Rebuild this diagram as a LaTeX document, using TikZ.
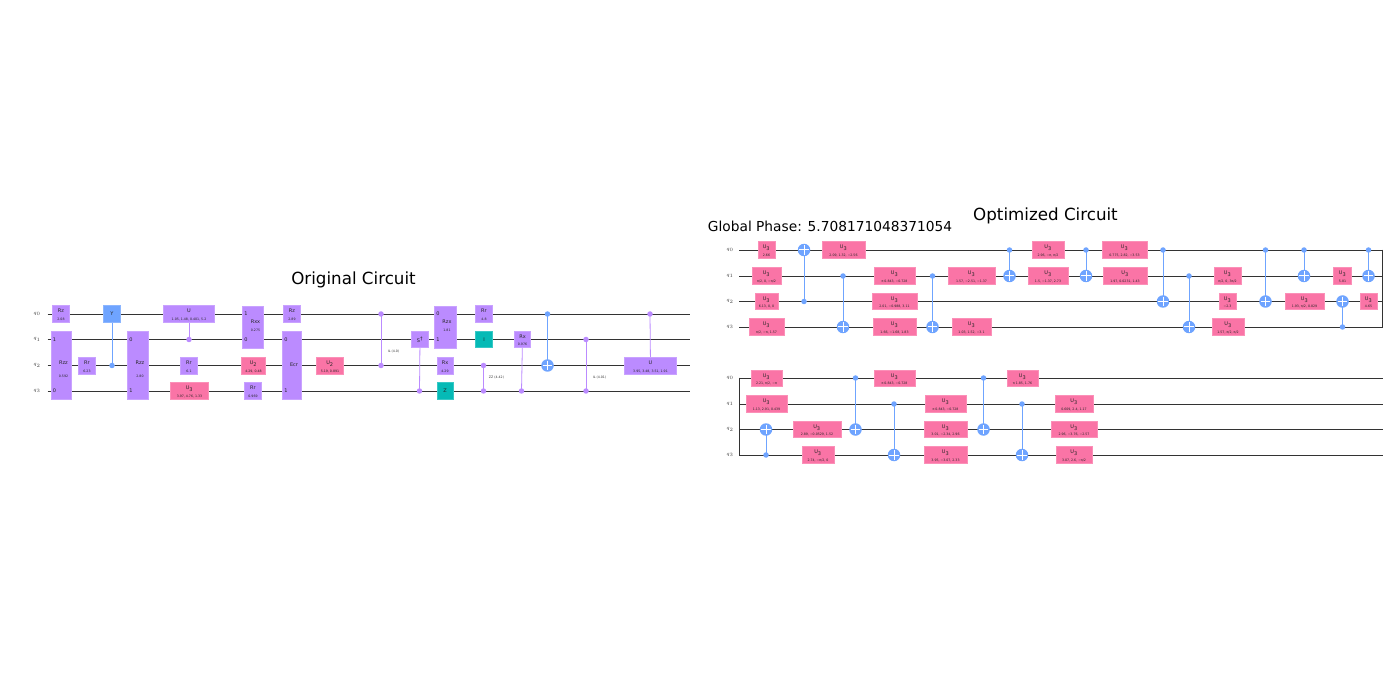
\documentclass[tikz,border=0pt]{standalone}
\usepackage{fontspec}
\setmainfont{DejaVu Sans}
\usepackage{xcolor}
\usetikzlibrary{backgrounds}
\definecolor{gatepurple}{HTML}{BB8BFF}
\definecolor{gateblue}{HTML}{6FA4FF}
\definecolor{gatepink}{HTML}{FA74A6}
\definecolor{gateteal}{HTML}{05BAB6}
\def\gateline#1#2#3{\makebox[0pt]{\raisebox{#1}[0pt][0pt]{\fontsize{#2}{6}\selectfont #3}}}
\def\gatetext#1#2{\gateline{1.2pt}{5}{#1}\gateline{-6.4pt}{3.2}{#2}}
\def\gatetall#1#2{\gateline{0.7pt}{5}{#1}\gateline{-12pt}{3.2}{#2}}
\def\uthree#1{\gatetext{U\textsubscript{3}}{#1}}
\def\utwo#1{\gatetext{U\textsubscript{2}}{#1}}
\begin{document}
\begin{tikzpicture}[x=1pt,y=-1pt]
    \tikzstyle{gatebox}=[rectangle,inner sep=0pt,text=black!85,line width=0.7pt,minimum width=17pt,minimum height=16.5pt]
    \tikzstyle{pgate}=[gatebox,fill=gatepurple,draw=gatepurple!80!white]
    \tikzstyle{bgate}=[gatebox,fill=gateblue,draw=gateblue!80!white]
    \tikzstyle{ugate}=[gatebox,fill=gatepink,draw=gatepink!80!white]
    \tikzstyle{tgate}=[gatebox,fill=gateteal,draw=gateteal!80!white]
    \tikzstyle{pdot}=[circle,fill=gatepurple,inner sep=0pt,minimum size=5.5pt]
    \tikzstyle{bdot}=[circle,fill=gateblue,inner sep=0pt,minimum size=5.5pt]
    \tikzstyle{target}=[circle,fill=gateblue,inner sep=0pt,minimum size=12.5pt,
      path picture={\draw[white,line width=1pt]
        ([yshift=-1.5pt]path picture bounding box.north) -- ([yshift=1.5pt]path picture bounding box.south)
        ([xshift=1.5pt]path picture bounding box.west) -- ([xshift=-1.5pt]path picture bounding box.east);}]
    \tikzstyle{wire}=[black!80,line width=0.8pt]
    \tikzstyle{plink}=[gatepurple,line width=0.8pt]
    \tikzstyle{blink}=[gateblue,line width=0.8pt]
    \tikzstyle{qlabel}=[text=black!75,font=\fontsize{5.5}{6}\selectfont]
    \tikzstyle{pin}=[text=black!85,font=\fontsize{5}{6}\selectfont]
    \tikzstyle{phase}=[text=black!80,font=\fontsize{3.2}{4}\selectfont]
    \tikzstyle{heading}=[text=black,font=\fontsize{16.7}{20}\selectfont]
    \useasboundingbox (0,0) rectangle (1400,700);

    \node[heading] (origtitle) at (353.5,279.5) {Original Circuit};
    \node[heading] (opttitle) at (1045.5,216) {Optimized Circuit};
    \node[text=black,font=\fontsize{13.75}{16}\selectfont] (phasetitle) at (830,226) {Global Phase: 5.708171048371054};

    % wire ends and names
    \foreach \i/\w/\ya/\yb in {0/314/250/378,1/339.5/276/404,2/365.5/301.5/429.5,3/391/327/455} {
      \coordinate (ow\i) at (47.5,\w);
      \coordinate (oe\i) at (690,\w);
      \coordinate (aw\i) at (739,\ya);
      \coordinate (ae\i) at (1382.5,\ya);
      \coordinate (bw\i) at (739,\yb);
      \coordinate (be\i) at (1382.5,\yb);
      \node[qlabel] (oq\i) at (37,\w) {$q_\i$};
      \node[qlabel] (aq\i) at (730,\ya) {$q_\i$};
      \node[qlabel] (bq\i) at (730,\yb) {$q_\i$};
    }

    % original circuit
    \node[pgate] (o1) at (61,314) {\gatetext{Rz}{2.08}};
    \node[pgate,minimum width=20pt,minimum height=68pt] (o2) at (61.5,365.5) {};
    \node[pin] (o2a) at (54.5,339.5) {1};
    \node[pin] (o2b) at (54.5,391) {0};
    \node[gatebox] (o2c) at (63.5,365.5) {\gatetall{Rzz}{0.592}};
    \node[pgate] (o3) at (87,366) {\gatetext{Rr}{6.23}};
    \node[bgate] (o4) at (112,314) {\fontsize{5}{6}\selectfont Y};
    \node[bdot] (o4c) at (112,365.5) {};
    \node[pgate,minimum width=21pt,minimum height=68pt] (o5) at (138,365.5) {};
    \node[pin] (o5a) at (131,339.5) {0};
    \node[pin] (o5b) at (131,391) {1};
    \node[gatebox] (o5c) at (140,365.5) {\gatetall{Rzz}{2.80}};
    \node[pgate,minimum width=51pt] (o6) at (189,314) {\gatetext{U}{1.05, 1.48, 0.401, 5.2}};
    \node[pdot] (o6c) at (189,339.5) {};
    \node[pgate] (o7) at (189,366) {\gatetext{Rr}{6.1}};
    \node[ugate,minimum width=38pt] (o8) at (189.5,391) {\uthree{3.97, 4.76, 1.33}};
    \node[pgate,minimum width=21pt,minimum height=42pt] (o9) at (253,327) {};
    \node[pin] (o9a) at (246,314) {1};
    \node[pin] (o9b) at (246,339.5) {0};
    \node[gatebox] (o9c) at (255.5,325) {\gatetext{Rxx}{0.275}};
    \node[ugate,minimum width=24pt] (o10) at (253.5,366) {\utwo{4.29, 0.48}};
    \node[pgate] (o11) at (253,391) {\gatetext{Rr}{0.969}};
    \node[pgate] (o12) at (292,314) {\gatetext{Rz}{2.89}};
    \node[pgate,minimum width=19pt,minimum height=68pt] (o13) at (291.5,365.5) {};
    \node[pin] (o13a) at (286,339.5) {0};
    \node[pin] (o13b) at (286,391) {1};
    \node[pin] (o13c) at (294,365) {Ecr};
    \node[ugate,minimum width=27pt] (o14) at (330,366) {\utwo{5.19, 0.891}};
    \node[pdot] (o15a) at (381,314) {};
    \node[pdot] (o15b) at (381,365.5) {};
    \node[phase] (o15c) at (393.5,351) {IL (4.0)};
    \node[pgate] (o16) at (420,339.5) {\fontsize{5}{6}\selectfont S\textsuperscript{†}};
    \node[pdot] (o16c) at (419.5,391) {};
    \node[pgate,minimum width=22pt,minimum height=42pt] (o17) at (445.5,327) {};
    \node[pin] (o17a) at (438,314) {0};
    \node[pin] (o17b) at (438,339.5) {1};
    \node[gatebox] (o17c) at (447,325) {\gatetext{Rzx}{1.81}};
    \node[pgate,minimum width=16pt] (o18) at (445,366) {\gatetext{Rx}{4.29}};
    \node[tgate,minimum width=16pt] (o19) at (445,391) {\fontsize{5}{6}\selectfont Z};
    \node[pgate] (o20) at (484,314) {\gatetext{Rr}{4.8}};
    \node[tgate] (o21) at (484,339.5) {\fontsize{5}{6}\selectfont I};
    \node[pdot] (o22a) at (483.5,365.5) {};
    \node[pdot] (o22b) at (483.5,391) {};
    \node[phase] (o22c) at (496.5,377) {ZZ (4.42)};
    \node[pgate,minimum width=16pt] (o23) at (522.5,339.5) {\gatetext{Rx}{0.976}};
    \node[pdot] (o23c) at (521.5,391) {};
    \node[bdot] (o24c) at (547.5,314) {};
    \node[target] (o24) at (547.5,365.5) {};
    \node[pdot] (o25a) at (586,339.5) {};
    \node[pdot] (o25b) at (586,391) {};
    \node[phase] (o25c) at (599.5,377) {IL (4.01)};
    \node[pgate,minimum width=52pt] (o26) at (650.5,366) {\gatetext{U}{3.95, 3.48, 3.51, 1.91}};
    \node[pdot] (o26c) at (650,314) {};

    % optimized circuit, first row
    \node[ugate] (a1) at (766.5,250) {\uthree{2.66}};
    \node[ugate,minimum width=29pt] (a2) at (766.5,276) {\uthree{π/2, 0, −π/2}};
    \node[ugate,minimum width=23pt] (a3) at (766.5,301.5) {\uthree{6.13, 0, 0}};
    \node[ugate,minimum width=35pt] (a4) at (766.5,327) {\uthree{π/2, −π, 1.57}};
    \node[target] (a5) at (804,250) {};
    \node[bdot] (a5c) at (804,301.5) {};
    \node[ugate,minimum width=43pt] (a6) at (843.5,250) {\uthree{2.09, 1.32, −2.56}};
    \node[bdot] (a7c) at (843,276) {};
    \node[target] (a7) at (843,327) {};
    \node[ugate,minimum width=41pt] (a8) at (894.5,276) {\uthree{π 0.843, −0.728}};
    \node[ugate,minimum width=45pt] (a9) at (894.5,301.5) {\uthree{2.01, −0.988, 3.11}};
    \node[ugate,minimum width=43pt] (a10) at (894.5,327) {\uthree{1.66, −1.68, 1.83}};
    \node[bdot] (a11c) at (932.5,276) {};
    \node[target] (a11) at (932.5,327) {};
    \node[ugate,minimum width=47pt] (a12) at (971.5,276) {\uthree{1.57, −2.51, −1.37}};
    \node[ugate,minimum width=39pt] (a13) at (971.5,327) {\uthree{1.03, 1.52, −3.1}};
    \node[bdot] (a14c) at (1009.5,250) {};
    \node[target] (a14) at (1009.5,276) {};
    \node[ugate,minimum width=32pt] (a15) at (1048,250) {\uthree{2.96, −π, π/2}};
    \node[ugate,minimum width=40pt] (a16) at (1048,276) {\uthree{1.5, −1.37, 2.73}};
    \node[bdot] (a17c) at (1086,250) {};
    \node[target] (a17) at (1086,276) {};
    \node[ugate,minimum width=45pt] (a18) at (1124.5,250) {\uthree{0.775, 2.82, −3.53}};
    \node[ugate,minimum width=44pt] (a19) at (1125,276) {\uthree{1.97, 0.0231, 1.43}};
    \node[bdot] (a20c) at (1163,250) {};
    \node[target] (a20) at (1163,301.5) {};
    \node[bdot] (a21c) at (1189,276) {};
    \node[target] (a21) at (1189,327) {};
    \node[ugate,minimum width=27pt] (a22) at (1227.5,276) {\uthree{π/2, 0, 3π/2}};
    \node[ugate] (a23) at (1227.5,301.5) {\uthree{−2.3}};
    \node[ugate,minimum width=32pt] (a24) at (1228,327) {\uthree{1.57, π/2, π/2}};
    \node[bdot] (a25c) at (1265.5,250) {};
    \node[target] (a25) at (1265.5,301.5) {};
    \node[bdot] (a26c) at (1304,250) {};
    \node[target] (a26) at (1304,276) {};
    \node[ugate,minimum width=39pt] (a27) at (1304.5,301.5) {\uthree{1.93, π/2, 0.829}};
    \node[ugate,minimum width=18pt] (a28) at (1342.5,276) {\uthree{5.81}};
    \node[target] (a29) at (1342.5,301.5) {};
    \node[bdot] (a29c) at (1342.5,327) {};
    \node[bdot] (a30c) at (1368.5,250) {};
    \node[target] (a30) at (1368.5,276) {};
    \node[ugate] (a31) at (1368.5,301.5) {\uthree{4.65}};

    % optimized circuit, second row
    \node[ugate,minimum width=31pt] (b1) at (766.5,378.5) {\uthree{2.21, π/2, −π}};
    \node[ugate,minimum width=41pt] (b2) at (766.5,404) {\uthree{1.13, 2.91, 0.439}};
    \node[target] (b3) at (766,429.5) {};
    \node[bdot] (b3c) at (766,455) {};
    \node[ugate,minimum width=48pt] (b4) at (817,429.5) {\uthree{2.89, −0.0529, 1.52}};
    \node[ugate,minimum width=32pt] (b5) at (818,455) {\uthree{2.74, −π/2, 0}};
    \node[bdot] (b6c) at (855.5,378) {};
    \node[target] (b6) at (855.5,429.5) {};
    \node[ugate,minimum width=41pt] (b7) at (894.5,378.5) {\uthree{π 0.843, −0.728}};
    \node[bdot] (b8c) at (894,404) {};
    \node[target] (b8) at (894,455) {};
    \node[ugate,minimum width=41pt] (b9) at (945.5,404) {\uthree{π 0.843, −0.728}};
    \node[ugate,minimum width=43pt] (b10) at (945.5,429.5) {\uthree{3.01, −2.34, 2.96}};
    \node[ugate,minimum width=43pt] (b11) at (945.5,455) {\uthree{3.95, −3.07, 2.33}};
    \node[bdot] (b12c) at (983.5,378) {};
    \node[target] (b12) at (983.5,429.5) {};
    \node[ugate,minimum width=31pt] (b13) at (1022.5,378.5) {\uthree{π 1.85, 1.76}};
    \node[bdot] (b14c) at (1022,404) {};
    \node[target] (b14) at (1022,455) {};
    \node[ugate,minimum width=38pt] (b15) at (1074,404) {\uthree{0.609, 2.4, 1.17}};
    \node[ugate,minimum width=46pt] (b16) at (1074,429.5) {\uthree{2.96, −3.76, −2.57}};
    \node[ugate,minimum width=36pt] (b17) at (1074,455) {\uthree{3.07, 2.6, −π/2}};

    \begin{scope}[on background layer]
      \foreach \i in {0,1,2,3} {
        \draw[wire] (ow\i) -- (oe\i);
        \draw[wire] (aw\i) -- (ae\i);
        \draw[wire] (bw\i) -- (be\i);
      }
      \draw[wire,line cap=rect] (ae0) -- (ae3);
      \draw[wire,line cap=rect] (bw0) -- (bw3);
      \draw[blink] (o4.center) -- (o4c.center);
      \draw[plink] (o6.center) -- (o6c.center);
      \draw[plink] (o15a.center) -- (o15b.center);
      \draw[plink] (o16.center) -- (o16c.center);
      \draw[plink] (o22a.center) -- (o22b.center);
      \draw[plink] (o23.center) -- (o23c.center);
      \draw[blink] (o24c.center) -- (o24.center);
      \draw[plink] (o25a.center) -- (o25b.center);
      \draw[plink] (o26.center) -- (o26c.center);
      \foreach \c in {a5,a7,a11,a14,a17,a20,a21,a25,a26,a29,a30,b3,b6,b8,b12,b14}
        \draw[blink] (\c c.center) -- (\c.center);
    \end{scope}
\end{tikzpicture}
\end{document}
